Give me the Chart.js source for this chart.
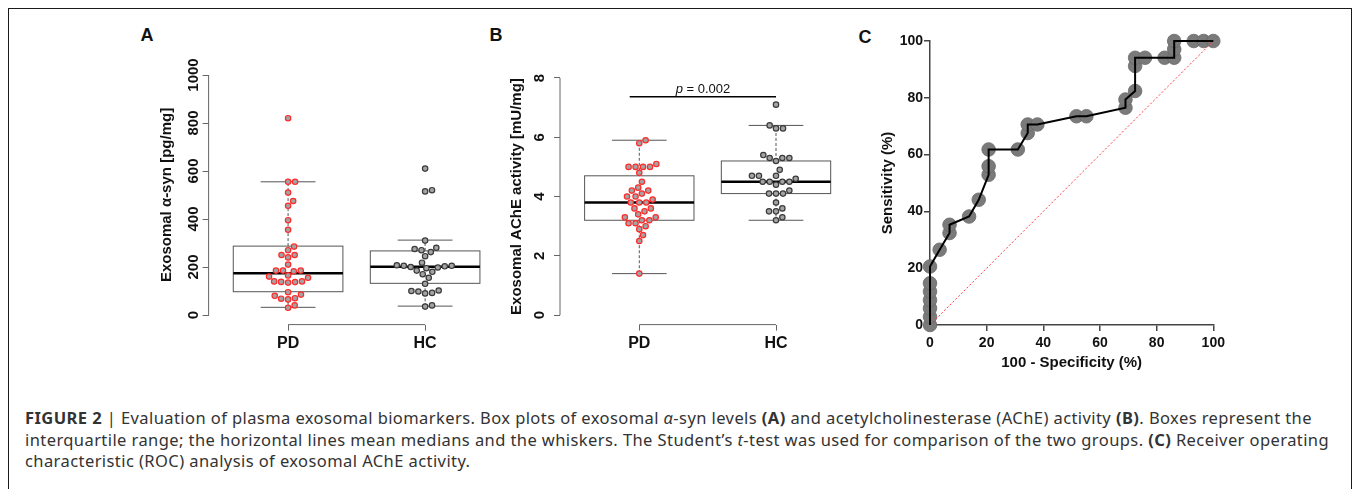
<!DOCTYPE html>
<html>
<head>
<meta charset="utf-8">
<script src="https://cdn.jsdelivr.net/npm/chart.js@4.4.1/dist/chart.umd.min.js"></script>
<style>
  body { margin: 0; background: #fff; width: 1354px; height: 489px; overflow: hidden; position: relative;
         font-family: "Liberation Sans", Arial, sans-serif; }
  #frame { position: absolute; left: 8px; top: 8px; width: 1344px; height: 490px; box-sizing: border-box;
           border: 1.5px solid #1a1a1a; border-bottom: none; }
  .tag { position: absolute; width: 30px; text-align: center; font-weight: bold; font-size: 18px; line-height: 20px; color: #111; }
  canvas { position: absolute; }
  #caption { position: absolute; left: 25px; top: 407px; font-family: "Noto Sans", "Liberation Sans", sans-serif;
             font-size: 16.5px; line-height: 21.5px; color: #333; white-space: nowrap; }
</style>
</head>
<body>
<div id="frame"></div>
<div class="tag" style="left:132px; top:25px;">A</div>
<div class="tag" style="left:481px; top:25px;">B</div>
<div class="tag" style="left:850px; top:27px;">C</div>
<canvas id="chartA" width="400" height="310" style="left:120px; top:50px;"></canvas>
<canvas id="chartB" width="400" height="310" style="left:480px; top:50px;"></canvas>
<canvas id="chartC" width="400" height="360" style="left:850px; top:20px;"></canvas>
<div id="caption">
  <span id="l1"><b>FIGURE 2</b> | Evaluation of plasma exosomal biomarkers. Box plots of exosomal <i>α</i>-syn levels <b>(A)</b> and acetylcholinesterase (AChE) activity <b>(B)</b>. Boxes represent the</span><br>
  <span id="l2">interquartile range; the horizontal lines mean medians and the whiskers. The Student’s <i>t</i>-test was used for comparison of the two groups. <b>(C)</b> Receiver operating</span><br>
  <span id="l3">characteristic (ROC) analysis of exosomal AChE activity.</span>
</div>
<script>
Chart.defaults.font.family = "'Liberation Sans', Arial, sans-serif";
Chart.defaults.animation = false;

var groupNames = ["PD", "HC"];

// panel A: exosomal alpha-syn [pg/mg]
var synPD = [820, 555, 555, 510, 475, 455, 395, 355, 285, 270, 250, 250, 240, 210, 185, 185, 185, 182,
  165, 160, 155, 140, 140, 138, 137, 135, 95, 85, 80, 70, 68, 65, 40, 30];
var synHC = [610, 520, 515, 310, 280, 275, 270, 262, 245, 218, 207, 205, 205, 203, 200, 198, 195, 185,
  180, 170, 155, 130, 102, 100, 98, 92, 90, 40, 35];
var synQ1 = [97, 132];
var synMed = [174, 201];
var synQ3 = [287, 267];
var synLo = [32, 37];
var synHi = [555, 312];
var synTicks = [0, 200, 400, 600, 800, 1000];

// panel B: exosomal AChE activity [mU/mg]
var achePD = [5.9, 5.8, 5.1, 5.0, 5.0, 5.0, 5.0, 4.8, 4.5, 4.3, 4.2, 4.2, 4.1, 4.0, 4.0, 3.9, 3.8, 3.8,
  3.8, 3.6, 3.6, 3.5, 3.4, 3.3, 3.3, 3.2, 3.2, 3.1, 3.1, 3.0, 2.9, 2.7, 2.5, 1.4];
var acheHC = [7.1, 6.4, 6.3, 6.3, 5.4, 5.3, 5.3, 5.3, 5.2, 4.9, 4.7, 4.7, 4.7, 4.6, 4.5, 4.5, 4.5, 4.5,
  4.4, 4.2, 4.1, 4.1, 4.1, 3.8, 3.6, 3.5, 3.5, 3.3, 3.2];
var acheQ1 = [3.2, 4.1];
var acheMed = [3.8, 4.5];
var acheQ3 = [4.7, 5.2];
var acheLo = [1.4, 3.2];
var acheHi = [5.9, 6.4];
var acheTicks = [0, 2, 4, 6, 8];
var pText = "0.002";
var pLineX = [0.93, 2.0];
var pLineY = 7.37;
var pTextAt = [1.466, 7.5];

// panel C: ROC
var rocFpr = [0, 0, 0, 0, 0, 0, 0, 3.4, 6.9, 6.9, 13.8, 17.2, 20.7, 20.7, 20.7, 31.0, 34.5, 34.5, 37.9,
  51.7, 55.2, 69.0, 69.0, 72.4, 72.4, 72.4, 75.9, 82.8, 86.2, 86.2, 86.2, 93.1, 96.6, 100];
var rocTpr = [0, 2.9, 5.9, 8.8, 11.8, 14.7, 20.6, 26.5, 32.4, 35.3, 38.2, 44.1, 52.9, 55.9, 61.8, 61.8,
  67.6, 70.6, 70.6, 73.5, 73.5, 76.5, 79.4, 82.4, 91.2, 94.1, 94.1, 94.1, 94.1, 97.1, 100, 100, 100, 100];
var rocTicks = [0, 20, 40, 60, 80, 100];

var BOX_HALF = 0.4;
var CAP_HALF = 0.2;

// stretch the caption so the first line spans the same width as in the figure
(function fitCaption() {
  var l1 = document.getElementById("l1");
  var w = l1.getBoundingClientRect().width;
  var n = l1.textContent.length;
  var sp = (1287 - w) / n;
  document.getElementById("caption").style.letterSpacing = sp.toFixed(3) + "px";
})();

// boxes are drawn under the points
var boxPlugin = {
  id: "rbox",
  beforeDatasetsDraw: function (chart, args, opts) {
    if (!opts.med) return;
    var ctx = chart.ctx, x = chart.scales.x, y = chart.scales.y;
    ctx.save();
    for (var i = 0; i < opts.med.length; i++) {
      var c = i + 1;
      var l = x.getPixelForValue(c - BOX_HALF), r = x.getPixelForValue(c + BOX_HALF);
      var cx = x.getPixelForValue(c);
      var cl = x.getPixelForValue(c - CAP_HALF), cr = x.getPixelForValue(c + CAP_HALF);
      var yq1 = y.getPixelForValue(opts.q1[i]), yq3 = y.getPixelForValue(opts.q3[i]);
      var ylo = y.getPixelForValue(opts.lo[i]), yhi = y.getPixelForValue(opts.hi[i]);
      var ymed = y.getPixelForValue(opts.med[i]);
      ctx.strokeStyle = "#555";
      ctx.lineWidth = 1;
      ctx.setLineDash([3, 2]);
      ctx.beginPath();
      ctx.moveTo(cx, yq3); ctx.lineTo(cx, yhi);
      ctx.moveTo(cx, yq1); ctx.lineTo(cx, ylo);
      ctx.stroke();
      ctx.setLineDash([]);
      ctx.beginPath();
      ctx.moveTo(cl, yhi); ctx.lineTo(cr, yhi);
      ctx.moveTo(cl, ylo); ctx.lineTo(cr, ylo);
      ctx.stroke();
      ctx.strokeRect(l, yq3, r - l, yq1 - yq3);
      ctx.strokeStyle = "#000";
      ctx.lineWidth = 2.5;
      ctx.beginPath();
      ctx.moveTo(l, ymed); ctx.lineTo(r, ymed);
      ctx.stroke();
    }
    ctx.restore();
  }
};

// R style axis lines: only from first to last tick
var axisPlugin = {
  id: "raxis",
  afterDraw: function (chart, args, opts) {
    if (!opts.on) return;
    var ctx = chart.ctx, a = chart.chartArea, x = chart.scales.x, y = chart.scales.y;
    var yt = y.ticks, xt = x.ticks;
    ctx.save();
    ctx.strokeStyle = "#666";
    ctx.lineWidth = 1;
    ctx.beginPath();
    ctx.moveTo(a.left, y.getPixelForValue(yt[0].value));
    ctx.lineTo(a.left, y.getPixelForValue(yt[yt.length - 1].value));
    ctx.moveTo(x.getPixelForValue(xt[0].value), a.bottom);
    ctx.lineTo(x.getPixelForValue(xt[xt.length - 1].value), a.bottom);
    ctx.stroke();
    ctx.restore();
  }
};

var pPlugin = {
  id: "pval",
  afterDatasetsDraw: function (chart, args, opts) {
    if (!opts.text) return;
    var ctx = chart.ctx, x = chart.scales.x, y = chart.scales.y;
    ctx.save();
    ctx.strokeStyle = "#000";
    ctx.lineWidth = 1.5;
    ctx.beginPath();
    ctx.moveTo(x.getPixelForValue(opts.lineX[0]), y.getPixelForValue(opts.lineY));
    ctx.lineTo(x.getPixelForValue(opts.lineX[1]), y.getPixelForValue(opts.lineY));
    ctx.stroke();
    var f = "'Liberation Sans', Arial, sans-serif";
    ctx.fillStyle = "#111";
    ctx.textBaseline = "alphabetic";
    ctx.font = "italic 13px " + f;
    var w1 = ctx.measureText("p").width;
    ctx.font = "13px " + f;
    var rest = " = " + opts.text;
    var w2 = ctx.measureText(rest).width;
    var tx = x.getPixelForValue(opts.at[0]) - (w1 + w2) / 2, ty = y.getPixelForValue(opts.at[1]);
    ctx.font = "italic 13px " + f;
    ctx.textAlign = "left";
    ctx.fillText("p", tx, ty);
    ctx.font = "13px " + f;
    ctx.fillText(rest, tx + w1, ty);
    ctx.restore();
  }
};

// simple beeswarm: place each point at the smallest offset that does not overlap
function swarm(values, toPx, diam) {
  var order = values.map(function (v, i) { return i; });
  order.sort(function (a, b) { return values[a] - values[b]; });
  var placed = [];
  var off = [];
  order.forEach(function (i) {
    var py = toPx(values[i]);
    var cands = [0];
    placed.forEach(function (p) {
      var dy = Math.abs(p.y - py);
      if (dy < diam) {
        var dx = Math.sqrt(diam * diam - dy * dy);
        cands.push(p.x + dx, p.x - dx);
      }
    });
    cands.sort(function (a, b) { return Math.abs(a) - Math.abs(b); });
    var best = 0;
    for (var k = 0; k < cands.length; k++) {
      var c = cands[k];
      var ok = placed.every(function (p) {
        return (p.x - c) * (p.x - c) + (p.y - py) * (p.y - py) >= diam * diam - 0.01;
      });
      if (ok) { best = c; break; }
    }
    placed.push({ x: best, y: py });
    off[i] = best;
  });
  return off;
}

function layoutSwarm(chart, groups) {
  var xs = chart.scales.x, ys = chart.scales.y;
  var pxPerUnit = xs.getPixelForValue(1) - xs.getPixelForValue(0);
  groups.forEach(function (vals, g) {
    var off = swarm(vals, function (v) { return ys.getPixelForValue(v); }, 7);
    chart.data.datasets[g].data = vals.map(function (v, i) {
      return { x: g + 1 + off[i] / pxPerUnit, y: v };
    });
  });
  chart.update("none");
}

function boxChart(id, pd, hc, stats, yMin, yMax, yTicks, yTitle, lay) {
  var ctx = document.getElementById(id).getContext("2d");
  var chart = new Chart(ctx, {
    type: "scatter",
    data: {
      datasets: [
        {
          data: pd.map(function (v) { return { x: 1, y: v }; }),
          pointRadius: 2.7, pointBorderWidth: 1.2,
          pointBackgroundColor: "#a3a3a3", pointBorderColor: "#ff2a2a"
        },
        {
          data: hc.map(function (v) { return { x: 2, y: v }; }),
          pointRadius: 2.7, pointBorderWidth: 1.2,
          pointBackgroundColor: "#a3a3a3", pointBorderColor: "#3a3a3a"
        }
      ]
    },
    options: {
      responsive: false,
      events: [],
      layout: { padding: { left: 0, top: lay.top, right: lay.right, bottom: 0 } },
      plugins: {
        legend: { display: false },
        tooltip: { enabled: false },
        rbox: stats,
        raxis: { on: true },
        pval: lay.pval || {}
      },
      scales: {
        x: {
          type: "linear", min: 0.42, max: 2.58,
          afterBuildTicks: function (s) { s.ticks = [{ value: 1 }, { value: 2 }]; },
          afterFit: function (s) { s.height = lay.xh; },
          ticks: {
            callback: function (v) { return groupNames[Math.round(v) - 1]; },
            font: { size: 16, weight: "bold" }, color: "#111", padding: 3,
            autoSkip: false, maxRotation: 0
          },
          grid: { drawOnChartArea: false, tickLength: 6, color: "#666", lineWidth: 1 },
          border: { display: false }
        },
        y: {
          min: yMin, max: yMax,
          afterBuildTicks: function (s) { s.ticks = yTicks.map(function (v) { return { value: v }; }); },
          afterFit: function (s) { s.width = lay.yw; },
          ticks: {
            callback: function (v) { return String(v); },
            minRotation: 90, maxRotation: 90, crossAlign: "center", padding: lay.tickPad,
            font: { size: 15, weight: "bold" }, color: "#111"
          },
          grid: { drawOnChartArea: false, tickLength: 6, color: "#666", lineWidth: 1 },
          border: { display: false },
          title: {
            display: true, text: yTitle, color: "#111",
            font: { size: 15, weight: "bold" }, padding: { top: lay.titlePad, bottom: 0 }
          }
        }
      }
    },
    plugins: [boxPlugin, axisPlugin, pPlugin]
  });
  layoutSwarm(chart, [pd, hc]);
  return chart;
}

var chartA = boxChart("chartA", synPD, synHC,
  { q1: synQ1, med: synMed, q3: synQ3, lo: synLo, hi: synHi },
  -40, 1040, synTicks, "Exosomal α-syn [pg/mg]",
  { top: 15.4, right: 15.4, xh: 35.4, yw: 88.6, tickPad: -7.5, titlePad: 38 });

var chartB = boxChart("chartB", achePD, acheHC,
  { q1: acheQ1, med: acheMed, q3: acheQ3, lo: acheLo, hi: acheHi },
  -0.32, 8.32, acheTicks, "Exosomal AChE activity [mU/mg]",
  { top: 15.4, right: 24.7, xh: 35.4, yw: 80, tickPad: 9.5, titlePad: 28,
    pval: { text: pText, lineX: pLineX, lineY: pLineY, at: pTextAt } });

var rocPts = rocFpr.map(function (v, i) { return { x: v, y: rocTpr[i] }; });
var ctxC = document.getElementById("chartC").getContext("2d");
var chartC = new Chart(ctxC, {
  type: "scatter",
  data: {
    datasets: [
      {
        type: "line", data: rocPts, order: 1, clip: false,
        borderColor: "#000", borderWidth: 2, pointRadius: 0, tension: 0, fill: false
      },
      {
        type: "line", data: [{ x: 0, y: 0 }, { x: 100, y: 100 }], order: 2, clip: false,
        borderColor: "#ff3b3b", borderWidth: 1, borderDash: [2, 2], pointRadius: 0, fill: false
      },
      {
        data: rocPts, order: 3, clip: false,
        pointRadius: 6.8, pointBorderWidth: 0.8,
        pointBackgroundColor: "#7a7a7a", pointBorderColor: "#686868"
      }
    ]
  },
  options: {
    responsive: false,
    events: [],
    layout: { padding: { left: 0, top: 21, right: 36.7, bottom: 0 } },
    plugins: { legend: { display: false }, tooltip: { enabled: false } },
    scales: {
      x: {
        type: "linear", min: 0, max: 100,
        afterBuildTicks: function (s) { s.ticks = rocTicks.map(function (v) { return { value: v }; }); },
        afterFit: function (s) { s.height = 55; },
        ticks: { font: { size: 14, weight: "bold" }, color: "#111", padding: 4, maxRotation: 0 },
        grid: { drawOnChartArea: false, tickLength: 6, color: "#444", lineWidth: 1.5 },
        border: { display: true, color: "#444", width: 1.5 },
        title: {
          display: true, text: "100 - Specificity (%)", color: "#111",
          font: { size: 15, weight: "bold" }, padding: { top: 0, bottom: 8 }
        }
      },
      y: {
        min: 0, max: 100,
        afterBuildTicks: function (s) { s.ticks = rocTicks.map(function (v) { return { value: v }; }); },
        afterFit: function (s) { s.width = 80; },
        ticks: { font: { size: 14, weight: "bold" }, color: "#111", padding: 1 },
        grid: { drawOnChartArea: false, tickLength: 6, color: "#444", lineWidth: 1.5 },
        border: { display: true, color: "#444", width: 1.5 },
        title: {
          display: true, text: "Sensitivity (%)", color: "#111",
          font: { size: 15, weight: "bold" }, padding: { top: 29, bottom: 0 }
        }
      }
    }
  }
});
</script>
</body>
</html>
